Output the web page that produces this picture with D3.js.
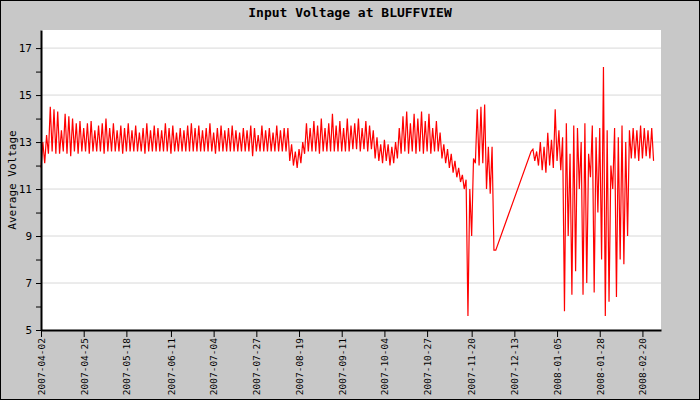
<!DOCTYPE html>
<html><head><meta charset="utf-8">
<script src="https://cdn.jsdelivr.net/npm/d3@7"></script>
<style>body{margin:0;background:#c8c8c8}text{font-family:"DejaVu Sans Mono",monospace;}</style>
</head><body><svg width="700" height="400"></svg>
<script>
var svg = d3.select("svg");
var width = 700, height = 400;
var margin = {left: 41, right: 39, top: 30, bottom: 70};

// one pair per two days starting 2007-04-02, null = no data
var lows = [11.9,12.1,12.5,12.6,12.5,12.5,12.6,12.5,12.4,12.6,12.5,12.6,12.6,12.5,12.6,12.6,12.6,12.5,12.6,12.6,
  12.6,12.6,12.5,12.6,12.6,12.6,12.6,12.6,12.5,12.6,12.6,12.6,12.6,12.6,12.6,12.5,12.6,12.6,12.6,12.6,
  12.6,12.6,12.6,12.6,12.6,12.6,12.6,12.5,12.6,12.6,12.6,12.6,12.6,12.6,12.6,12.6,12.6,12.4,12.6,12.6,
  12.6,12.6,12.6,12.6,12.6,12.6,12.6,12.2,12.0,11.9,12.1,12.5,12.6,12.6,12.6,12.5,12.6,12.6,12.6,12.6,
  12.6,12.6,12.6,12.6,12.7,12.7,12.6,12.7,12.6,12.7,12.3,12.2,12.1,12.2,12.0,12.1,12.3,12.5,12.6,12.5,
  12.6,12.5,12.6,12.5,12.6,12.5,12.6,12.6,12.3,12.1,11.9,11.7,11.5,11.3,11.0,5.6,9.0,12.1,12.0,12.1,
  11.0,10.8,8.4,null,null,null,null,null,null,null,null,null,12.6,12.2,12.0,11.8,11.7,12.0,11.9,12.2,
  11.8,5.8,9.0,6.5,7.5,11.0,6.5,7.0,11.5,6.6,10.0,8.0,5.6,6.2,11.0,6.4,8.0,7.8,9.0,12.3,12.3,12.2,
  12.3,12.4,12.3,12.2,12.3];
var highs = [13.0,13.3,14.5,14.4,14.3,13.5,14.2,14.1,14.0,13.8,13.9,13.6,13.8,13.9,13.5,13.7,13.8,14.0,13.6,13.8,
  13.5,13.7,13.6,13.8,13.5,13.7,13.4,13.6,13.8,13.5,13.7,13.6,13.5,13.8,13.6,13.7,13.4,13.6,13.5,13.7,
  13.8,13.6,13.7,13.5,13.6,13.8,13.4,13.6,13.7,13.5,13.6,13.7,13.5,13.4,13.6,13.5,13.7,13.6,13.3,13.7,
  13.5,13.6,13.4,13.7,13.5,13.6,13.6,12.9,12.6,12.7,13.0,13.8,13.6,13.9,13.7,14.0,13.6,13.8,14.2,13.7,
  13.9,13.6,14.0,13.7,13.8,14.0,13.6,13.9,13.7,13.5,13.2,12.9,13.1,12.9,12.8,13.0,13.6,14.1,14.3,13.8,
  14.2,14.0,14.3,13.9,14.2,13.6,13.9,13.4,12.9,12.7,12.5,12.2,11.9,11.6,11.4,11.0,12.3,14.4,14.5,14.6,
  12.8,12.8,8.4,null,null,null,null,null,null,null,null,null,12.7,12.6,13.0,12.8,13.4,13.1,14.4,13.5,
  13.2,13.8,12.5,13.7,13.6,13.0,13.8,12.5,13.7,13.2,13.6,16.2,13.5,12.0,13.6,13.2,13.7,13.0,13.5,13.6,
  13.5,13.7,13.6,13.5,13.6];
var startDate = new Date(2007, 3, 2);
var endDate = new Date(2008, 2, 1);
var tickLabels = ["2007-04-02","2007-04-25","2007-05-18","2007-06-11","2007-07-04","2007-07-27","2007-08-19",
  "2007-09-11","2007-10-04","2007-10-27","2007-11-20","2007-12-13","2008-01-05","2008-01-28","2008-02-20"];

var parse = d3.timeParse("%Y-%m-%d");
var x = d3.scaleTime().domain([startDate, endDate]).range([margin.left, width - margin.right]);
var y = d3.scaleLinear().domain([5, 17.77]).range([height - margin.bottom, margin.top]);

var pts = [];
lows.forEach(function(lo, i) {
  if (lo === null) return;
  pts.push({t: d3.timeDay.offset(startDate, i * 2), v: lo});
  pts.push({t: d3.timeDay.offset(startDate, i * 2 + 1), v: highs[i]});
});

svg.append("rect").attr("x", 0.5).attr("y", 0.5).attr("width", width - 1).attr("height", height - 1)
  .attr("fill", "#c8c8c8").attr("stroke", "#000");
svg.append("rect").attr("x", margin.left).attr("y", margin.top)
  .attr("width", width - margin.left - margin.right).attr("height", height - margin.top - margin.bottom)
  .attr("fill", "#fff");

svg.append("g").selectAll("line").data([7, 9, 11, 13, 15, 17]).enter().append("line")
  .attr("x1", margin.left).attr("x2", width - margin.right)
  .attr("y1", d => y(d)).attr("y2", d => y(d))
  .attr("stroke", "#d8d8d8");

svg.append("path").datum(pts)
  .attr("fill", "none").attr("stroke", "#ff0000").attr("stroke-width", 1.2)
  .attr("d", d3.line().x(d => x(d.t)).y(d => y(d.v)));

var yAxis = svg.append("g").attr("transform", "translate(" + margin.left + ",0)")
  .call(d3.axisLeft(y).tickValues(d3.range(5, 18)).tickSize(5).tickSizeOuter(0)
    .tickFormat(d => d % 2 ? d : ""));
var xAxis = svg.append("g").attr("transform", "translate(0," + (height - margin.bottom) + ")")
  .call(d3.axisBottom(x).tickValues(tickLabels.map(parse)).tickSize(7).tickSizeOuter(0)
    .tickFormat(d3.timeFormat("%Y-%m-%d")));
[yAxis, xAxis].forEach(function(a) {
  a.selectAll("path,line").attr("stroke", "#000");
  a.select(".domain").attr("stroke-width", 2);
  a.selectAll("text").attr("fill", "#000").style("font-size", "11px");
});
yAxis.selectAll("text").attr("x", -9);
xAxis.selectAll("text").style("font-size", "9.5px").attr("text-anchor", "end").attr("transform", "rotate(-90)")
  .attr("x", -8).attr("y", 0).attr("dy", "0.35em");

svg.append("text").attr("x", width / 2).attr("y", 17).attr("text-anchor", "middle")
  .style("font-size", "13px").style("font-weight", "bold").text("Input Voltage at BLUFFVIEW");
svg.append("text").attr("transform", "translate(12," + (margin.top + 150) + ") rotate(-90)")
  .attr("text-anchor", "middle").attr("dy", "0.35em").style("font-size", "11px").text("Average Voltage");
</script></body></html>
